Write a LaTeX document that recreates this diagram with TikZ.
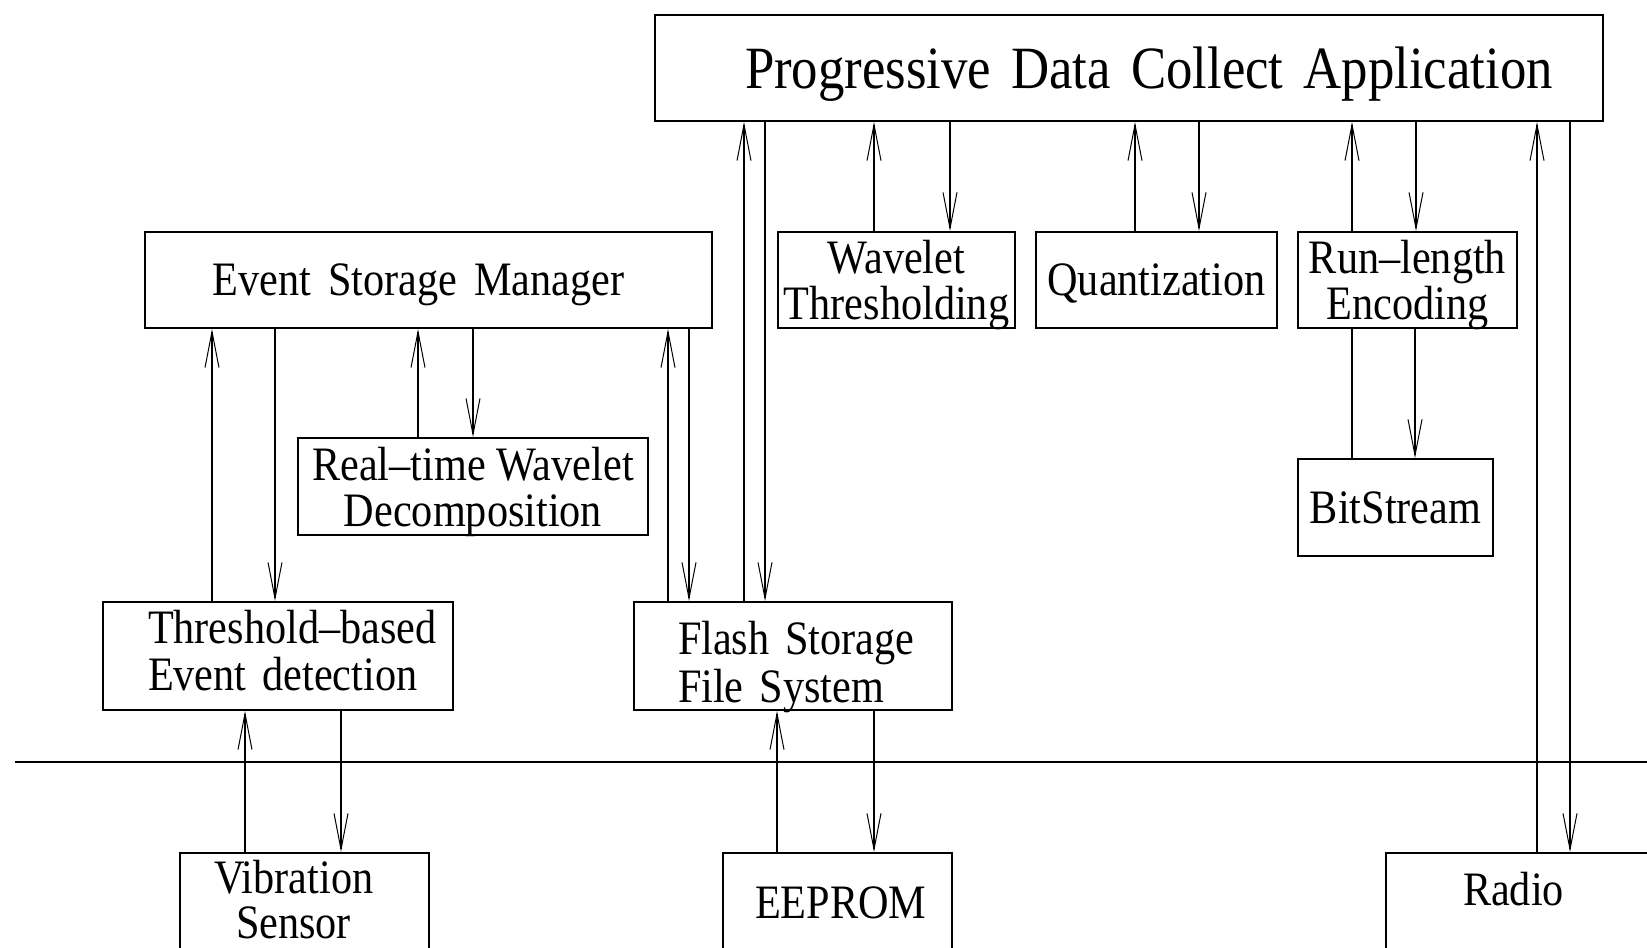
\documentclass[tikz,border=0pt]{standalone}
\usepackage{fontspec}
\setmainfont[FakeStretch=0.88]{Liberation Serif}
\usetikzlibrary{arrows.meta}

\newcommand\boxfont{\fontsize{24}{23}\selectfont}
\newcommand\titlefont{\fontsize{30}{32}\selectfont}

\tikzset{
	box/.style={draw, line width=1pt, inner sep=0pt, anchor=north west, font=\boxfont},
	cbox/.style={box, align=center, text depth=0pt},
	lbox/.style={box, align=left, inner ysep=0pt},
	arr/.style={line width=0.75pt, -{Straight Barb[length=18pt,width=7pt,line width=0.5pt]}},
	link/.style={line width=0.75pt}
}

\begin{document}
\begin{tikzpicture}[x=0.5pt,y=-0.5pt]
			\clip (0,0) rectangle (1647,947);

			% application and processing boxes
			\node[box, align=left, text depth=0pt, font=\titlefont, inner xsep=45pt, text width=384pt, minimum height=53pt] (pdca) at (654,14) {\mbox{Progressive Data Collect Application}};
			\node[cbox, minimum width=283.5pt, minimum height=48pt] (esm) at (144,231) {Event\hspace{8.5pt}Storage\hspace{8.5pt}Manager\hspace*{10pt}};
			\node[cbox, minimum width=118.5pt, minimum height=48pt] (wt) at (777,231) {Wavelet\\Thresholding};
			\node[cbox, minimum width=120.5pt, minimum height=48pt] (quant) at (1035,231) {Quantization};
			\node[cbox, minimum width=109.5pt, minimum height=48pt] (rle) at (1297,231) {Run--length\\Encoding};
			\node[cbox, minimum width=175pt, minimum height=48.5pt] (rtwd) at (297,437) {Real--time Wavelet\\Decomposition};
			\node[cbox, minimum width=97.5pt, minimum height=48.5pt] (bits) at (1297,458) {BitStream};
			\node[lbox, font=\fontsize{24}{23.5}\selectfont, inner xsep=22.5pt, text width=130pt, text height=20.7pt, text depth=33.3pt] (tbed) at (102,601) {\mbox{Threshold--based}\\\mbox{Event detection}};
			\node[lbox, font=\fontsize{24}{24}\selectfont, inner xsep=22pt, text width=115pt, text height=26pt, text depth=28pt] (fsfs) at (633,601) {\mbox{Flash Storage}\\\mbox{File System}};

			% hardware boxes
			\node[lbox, font=\fontsize{24}{22.5}\selectfont, inner xsep=17pt, text width=90.5pt, text height=20pt, text depth=34pt] (vib) at (179,852) {\mbox{Vibration}\\\hspace*{11pt}Sensor};
			\node[lbox, inner xsep=16pt, text width=82.5pt, text height=32.5pt, text depth=21pt] (eeprom) at (722,852) {\mbox{EEPROM}};
			\node[lbox, inner xsep=38.5pt, text width=80pt, text height=26pt, text depth=28pt] (radio) at (1385,852) {Radio};

			% hardware line
			\draw[line width=1pt] (15,762) -- (1647,762);

			% application links
			\draw[arr] (fsfs.north -| 744,0) -- (pdca.south -| 744,0);
			\draw[arr] (pdca.south -| 765,0) -- (fsfs.north -| 765,0);
			\draw[arr] (wt.north -| 874,0) -- (pdca.south -| 874,0);
			\draw[arr] (pdca.south -| 950,0) -- (wt.north -| 950,0);
			\draw[arr] (quant.north -| 1135,0) -- (pdca.south -| 1135,0);
			\draw[arr] (pdca.south -| 1199,0) -- (quant.north -| 1199,0);
			\draw[arr] (rle.north -| 1352,0) -- (pdca.south -| 1352,0);
			\draw[arr] (pdca.south -| 1416,0) -- (rle.north -| 1416,0);
			\draw[arr] (radio.north -| 1537,0) -- (pdca.south -| 1537,0);
			\draw[arr] (pdca.south -| 1570,0) -- (radio.north -| 1570,0);

			% storage manager links
			\draw[arr] (tbed.north -| 212,0) -- (esm.south -| 212,0);
			\draw[arr] (esm.south -| 275,0) -- (tbed.north -| 275,0);
			\draw[arr] (rtwd.north -| 418,0) -- (esm.south -| 418,0);
			\draw[arr] (esm.south -| 473,0) -- (rtwd.north -| 473,0);
			\draw[arr] (fsfs.north -| 668,0) -- (esm.south -| 668,0);
			\draw[arr] (esm.south -| 689,0) -- (fsfs.north -| 689,0);

			% encoding to bitstream
			\draw[link] (rle.south -| 1352,0) -- (bits.north -| 1352,0);
			\draw[arr] (rle.south -| 1415,0) -- (bits.north -| 1415,0);

			% hardware links
			\draw[arr] (vib.north -| 245,0) -- (tbed.south -| 245,0);
			\draw[arr] (tbed.south -| 341,0) -- (vib.north -| 341,0);
			\draw[arr] (eeprom.north -| 777,0) -- (fsfs.south -| 777,0);
			\draw[arr] (fsfs.south -| 874,0) -- (eeprom.north -| 874,0);

		\end{tikzpicture}
\end{document}
